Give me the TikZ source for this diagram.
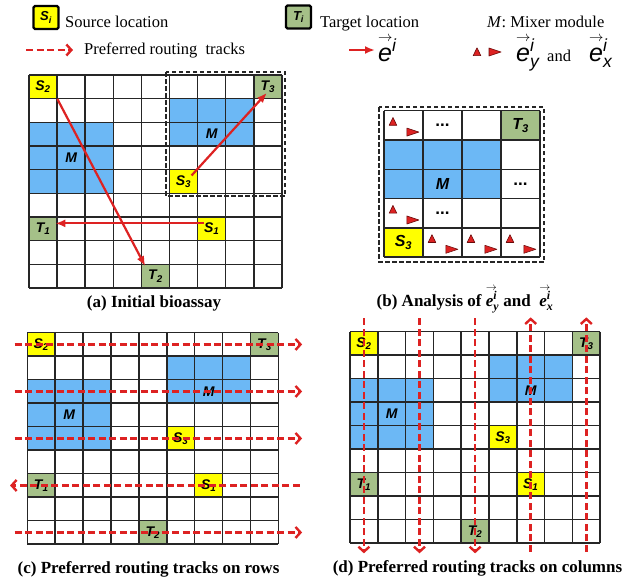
\documentclass[tikz,border=0pt]{standalone}
\usepackage{amsmath}
\usepackage{fontspec}
\setmainfont{Liberation Serif}
\setsansfont{Liberation Sans}
\usepackage{tikz}
\usetikzlibrary{arrows.meta,positioning}
\definecolor{bioYellow}{HTML}{FFFF00}
\definecolor{bioGreen}{HTML}{A5C088}
\definecolor{bioBlue}{HTML}{6CB8F5}
\definecolor{bioRed}{HTML}{DD2222}
\definecolor{bioDarkRed}{HTML}{6A0A0A}
\definecolor{bioGrid}{HTML}{262626}
\tikzset{
  grid line/.style={draw=bioGrid, line width=1.5pt},
  src cell/.style={fill=bioYellow, inner sep=0pt,
    font=\fontsize{14}{14}\selectfont\sffamily\bfseries\itshape},
  tgt cell/.style={fill=bioGreen, inner sep=0pt,
    font=\fontsize{14}{14}\selectfont\sffamily\bfseries\itshape},
  legend box/.style={draw=black, line width=2.4pt, rounded corners=1.5pt,
    minimum width=25pt, minimum height=23pt, inner sep=0pt,
    font=\fontsize{13}{13}\selectfont\sffamily\bfseries\itshape},
  mixer label/.style={font=\fontsize{14}{14}\selectfont\sffamily\bfseries\itshape},
  route/.style={-{Latex[length=10pt,width=8pt]}, line width=2.2pt, draw=bioRed},
  track/.style={-{Straight Barb[length=5pt,width=11pt,line width=2.4pt]},
    line width=2.6pt, draw=bioRed, dash pattern=on 7pt off 3.5pt},
  frame box/.style={draw=black!85, line width=2.8pt, dash pattern=on 4.5pt off 2.5pt},
  marker/.style={fill=bioRed, draw=bioDarkRed, line width=0.6pt, line join=round},
  caption/.style={font=\fontsize{17}{20}\selectfont\bfseries, anchor=base},
  legend text/.style={font=\fontsize{16.5}{19}\selectfont, anchor=base west, inner sep=0pt},
  vec text/.style={font=\fontsize{25}{25}\selectfont, anchor=base west, inner sep=0pt},
  dots/.style={font=\fontsize{17}{17}\selectfont\sffamily\bfseries, inner sep=0pt}
}

\begin{document}
\begin{tikzpicture}[x=1pt, y=-1pt]
  \useasboundingbox (0,0) rectangle (634,581);

  \node[legend box, fill=bioYellow] (legS) at (46,17.5) {S\textsubscript{i}};
  \node[legend text] (legSText) at (65,27) {Source location};
  \node[legend box, fill=bioGreen] (legT) at (298.5,17) {T\textsubscript{i}};
  \node[legend text] (legTText) at (320,27) {Target location};
  \node[legend text] (legMText) at (487,27) {\textit{M}: Mixer module};
  \coordinate (legTrkA) at (26,50);
  \coordinate (legTrkB) at (73,50);
  \draw[track] (legTrkA) -- (legTrkB);
  \node[legend text, right=11pt of legTrkB] (legTrkText) {Preferred routing\ \ tracks};
  \coordinate (legRouteA) at (349,50);
  \coordinate (legRouteB) at (375,50);
  \draw[route] (legRouteA) -- (legRouteB);
  \node[vec text] (legE) at (378,61)
    {\rlap{\raisebox{20pt}{\fontsize{15}{15}\selectfont$\rightarrow$}}$\textsf{\itshape e}^{\textsf{\itshape i}}$};
  \filldraw[marker] (477,52) +(-3.8pt,-3.6pt) -- +(3.8pt,-3.6pt) -- +(0pt,4.2pt) -- cycle;
  \filldraw[marker] (495,52) +(-6pt,4pt) -- +(6pt,0pt) -- +(-6pt,-4pt) -- cycle;
  \node[vec text] (legEy) at (516,61)
    {\rlap{\raisebox{20pt}{\fontsize{15}{15}\selectfont$\rightarrow$}}$\textsf{\itshape e}^{\textsf{\itshape i}}_{\textsf{\itshape y}}$};
  \node[legend text] (legAnd) at (547,61) {and};
  \node[vec text] (legEx) at (589,61)
    {\rlap{\raisebox{20pt}{\fontsize{15}{15}\selectfont$\rightarrow$}}$\textsf{\itshape e}^{\textsf{\itshape i}}_{\textsf{\itshape x}}$};

  \begin{scope}[shift={(29,75)}, x=28.1pt, y=-23.67pt,
      cell size/.style={minimum width=28.1pt, minimum height=23.67pt}]
    \fill[bioBlue] (0,2) rectangle (3,5);
    \fill[bioBlue] (5,1) rectangle (8,3);
    \node[src cell, cell size] (aS2) at (0.5,0.5) {S\textsubscript{2}};
    \node[tgt cell, cell size] (aT3) at (8.5,0.5) {T\textsubscript{3}};
    \node[src cell, cell size] (aS3) at (5.5,4.5) {S\textsubscript{3}};
    \node[tgt cell, cell size] (aT1) at (0.5,6.5) {T\textsubscript{1}};
    \node[src cell, cell size] (aS1) at (6.5,6.5) {S\textsubscript{1}};
    \node[tgt cell, cell size] (aT2) at (4.5,8.5) {T\textsubscript{2}};
    \node[mixer label] (aM1) at (1.5,3.5) {M};
    \node[mixer label] (aM2) at (6.5,2.5) {M};
    \foreach \i in {0,...,9} {
      \draw[grid line] (\i,0) -- (\i,9);
      \draw[grid line] (0,\i) -- (9,\i);
    }
    \draw[route] (aS2.south east) -- ([xshift=4pt,yshift=-2pt]aT2.north west);
    \draw[route] ([xshift=8pt,yshift=6pt]aS3.center) -- ([xshift=-1pt,yshift=-6pt]aT3.center);
    \draw[route] ([xshift=-8pt,yshift=5.5pt]aS1.center) -- ([xshift=-2pt,yshift=5.5pt]aT1.east);
  \end{scope}
  \draw[frame box] (166,72) rectangle (285,196);
  \node[caption] (capA) at (154,307) {(a) Initial bioassay};

  \draw[frame box] (379,107) rectangle (544,262);
  \begin{scope}[shift={(384,110.7)}, x=39pt, y=-29.3pt,
      cell size/.style={minimum width=39pt, minimum height=29.3pt}]
    \fill[bioBlue] (0,1) rectangle (3,3);
    \node[tgt cell, cell size, font=\fontsize{16}{16}\selectfont\sffamily\bfseries\itshape]
      (bT3) at (3.5,0.5) {T\textsubscript{3}};
    \node[src cell, cell size, font=\fontsize{16}{16}\selectfont\sffamily\bfseries\itshape]
      (bS3) at (0.5,4.5) {S\textsubscript{3}};
    \node[mixer label, font=\fontsize{16}{16}\selectfont\sffamily\bfseries\itshape]
      (bM) at (1.5,2.5) {M};
    \node[dots] (bD1) at (1.5,0.5) {...};
    \node[dots] (bD2) at (3.5,2.5) {...};
    \node[dots] (bD3) at (1.5,3.5) {...};
    \foreach \i in {0,...,4}
      \draw[grid line] (\i,0) -- (\i,5);
    \foreach \j in {0,...,5}
      \draw[grid line] (0,\j) -- (4,\j);
    \foreach \c/\r in {0/0,0/3,1/4,2/4,3/4} {
      \filldraw[marker] (\c+0.23,\r+0.375) +(-3.8pt,-3.6pt) -- +(3.8pt,-3.6pt) -- +(0pt,4.2pt) -- cycle;
      \filldraw[marker] (\c+0.74,\r+0.73) +(-6pt,4pt) -- +(6pt,0pt) -- +(-6pt,-4pt) -- cycle;
    }
  \end{scope}
  \node[caption] (capB) at (465,306) {(b) Analysis of
    \rlap{\raisebox{16pt}{\fontsize{11}{11}\selectfont$\rightarrow$}}$\textit{e}^{\textit{i}}_{\textit{y}}$\ and\ \
    \rlap{\raisebox{16pt}{\fontsize{11}{11}\selectfont$\rightarrow$}}$\textit{e}^{\textit{i}}_{\textit{x}}$};

  \begin{scope}[shift={(27.3,332.7)}, x=27.9pt, y=-23.5pt,
      cell size/.style={minimum width=27.9pt, minimum height=23.5pt}]
    \fill[bioBlue] (0,2) rectangle (3,5);
    \fill[bioBlue] (5,1) rectangle (8,3);
    \node[src cell, cell size] (cS2) at (0.5,0.5) {S\textsubscript{2}};
    \node[tgt cell, cell size] (cT3) at (8.5,0.5) {T\textsubscript{3}};
    \node[src cell, cell size] (cS3) at (5.5,4.5) {S\textsubscript{3}};
    \node[tgt cell, cell size] (cT1) at (0.5,6.5) {T\textsubscript{1}};
    \node[src cell, cell size] (cS1) at (6.5,6.5) {S\textsubscript{1}};
    \node[tgt cell, cell size] (cT2) at (4.5,8.5) {T\textsubscript{2}};
    \node[mixer label] (cM1) at (1.5,3.5) {M};
    \node[mixer label] (cM2) at (6.5,2.5) {M};
    \foreach \i in {0,...,9} {
      \draw[grid line] (\i,0) -- (\i,9);
      \draw[grid line] (0,\i) -- (9,\i);
    }
    \foreach \r in {0,2,4,8} {
      \coordinate (cL\r) at (-0.45,\r+0.5);
      \coordinate (cR\r) at (9.85,\r+0.5);
      \draw[track] (cL\r) -- (cR\r);
    }
    \coordinate (cL6) at (-0.62,6.5);
    \coordinate (cR6) at (9.77,6.5);
    \draw[track] (cR6) -- (cL6);
  \end{scope}
  \node[caption] (capC) at (148.5,573) {(c) Preferred routing tracks on rows};

  \begin{scope}[shift={(350,331.7)}, x=27.8pt, y=-23.5pt,
      cell size/.style={minimum width=27.8pt, minimum height=23.5pt}]
    \fill[bioBlue] (0,2) rectangle (3,5);
    \fill[bioBlue] (5,1) rectangle (8,3);
    \node[src cell, cell size] (dS2) at (0.5,0.5) {S\textsubscript{2}};
    \node[tgt cell, cell size] (dT3) at (8.5,0.5) {T\textsubscript{3}};
    \node[src cell, cell size] (dS3) at (5.5,4.5) {S\textsubscript{3}};
    \node[tgt cell, cell size] (dT1) at (0.5,6.5) {T\textsubscript{1}};
    \node[src cell, cell size] (dS1) at (6.5,6.5) {S\textsubscript{1}};
    \node[tgt cell, cell size] (dT2) at (4.5,8.5) {T\textsubscript{2}};
    \node[mixer label] (dM1) at (1.5,3.5) {M};
    \node[mixer label] (dM2) at (6.5,2.5) {M};
    \foreach \i in {0,...,9} {
      \draw[grid line] (\i,0) -- (\i,9);
      \draw[grid line] (0,\i) -- (9,\i);
    }
    \foreach \c in {0,2,4} {
      \coordinate (dT\c) at (\c+0.5,-0.57);
      \coordinate (dB\c) at (\c+0.5,9.43);
      \draw[track] (dT\c) -- (dB\c);
    }
    \foreach \c in {6,8} {
      \coordinate (dT\c) at (\c+0.5,-0.61);
      \coordinate (dB\c) at (\c+0.5,9.36);
      \draw[track] (dB\c) -- (dT\c);
    }
  \end{scope}
  \node[caption] (capD) at (477.5,572) {(d) Preferred routing tracks on columns};
\end{tikzpicture}
\end{document}
